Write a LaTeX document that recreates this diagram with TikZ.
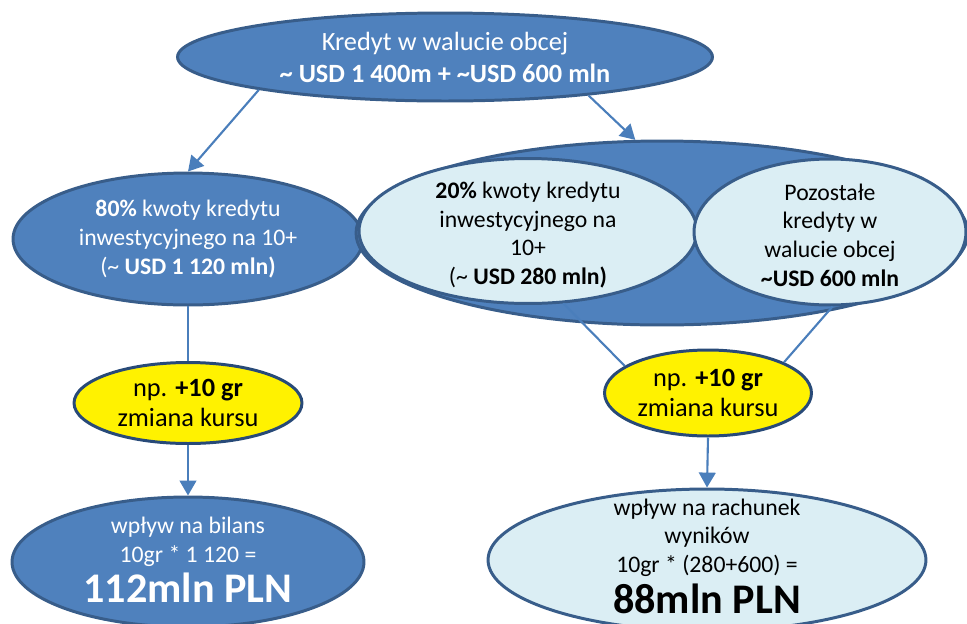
\documentclass[tikz,border=0pt]{standalone}
\usepackage{fontspec}
\setmainfont{Carlito}
\usetikzlibrary{shapes.geometric, arrows.meta, positioning}
\definecolor{darkfill}{HTML}{4F81BD}
\definecolor{edgeblue}{HTML}{385D8A}
\definecolor{lightfill}{HTML}{DBEEF4}
\definecolor{lineblue}{HTML}{4A7EBB}
\definecolor{navyedge}{HTML}{284A78}

\begin{document}
\begin{tikzpicture}[x=0.02cm, y=-0.02cm, >={Triangle[length=8.5pt,width=9.5pt]},
    oval/.style={draw=edgeblue, ellipse, line width=1.7pt, inner sep=0pt, align=center},
    dark/.style={oval, fill=darkfill, text=white},
    light/.style={oval, fill=lightfill},
    rate/.style={oval, fill=yellow, draw=navyedge, font=\fontsize{15}{17}\selectfont},
    txt/.style={align=center, font=\fontsize{13.5}{16.3}\selectfont},
    conn/.style={draw=lineblue, line width=1.2pt}]
    \useasboundingbox (0,0) rectangle (967,623);
    % top
    \node[dark, minimum width=10.7cm, minimum height=1.76cm, font=\fontsize{15}{18.2}\selectfont] (loan) at (445,57)
        {Kredyt w walucie obcej\\\textbf{\textasciitilde{} USD 1 400m + \textasciitilde USD 600 mln}};
    % left branch
    \node[dark, txt, minimum width=7cm, minimum height=2.64cm] (big) at (188,239)
        {\textbf{80\%} kwoty kredytu\\inwestycyjnego na 10+\\(\textasciitilde{} \textbf{USD 1 120 mln)}};
    \node[rate, minimum width=4.56cm, minimum height=1.62cm] (rateL) at (188,403)
        {np. \textbf{+10 gr}\\zmiana kursu};
    \node[dark, minimum width=7.04cm, minimum height=2.6cm] (bilans) at (188,562) {};
    \node[txt, text=white] (bilansT) at (188,560)
        {wpływ na bilans\\10gr * 1 120 =\\[3pt]{\fontsize{24}{26}\selectfont\textbf{112mln PLN}}};
    % right branch
    \node[dark, minimum width=12.24cm, minimum height=3.68cm] (rest) at (662,233) {};
    \node[light, minimum width=6.76cm, minimum height=2.9cm] (small) at (528,231) {};
    \node[txt] (smallT) at (528,235)
        {\textbf{20\%} kwoty kredytu\\inwestycyjnego na\\10+\\(\textasciitilde{} \textbf{USD 280 mln)}};
    \node[light, minimum width=5.44cm, minimum height=2.92cm] (other) at (830,232) {};
    \node[txt] (otherT) at (830,235)
        {Pozostałe\\kredyty w\\walucie obcej\\\textbf{\textasciitilde USD 600 mln}};
    \node[rate, minimum width=4.14cm, minimum height=1.72cm] (rateR) at (708,393)
        {np. \textbf{+10 gr}\\zmiana kursu};
    \node[light, minimum width=8.76cm, minimum height=2.84cm] (wynik) at (707,560) {};
    \node[txt] (wynikT) at (707,556)
        {wpływ na rachunek\\wyników\\10gr * (280+600) =\\[3pt]{\fontsize{24}{26}\selectfont\textbf{88mln PLN}}};
    % connectors
    \draw[conn, ->] (loan.190) -- (big.north);
    \draw[conn, ->] (loan.345) -- (rest.106);
    \draw[conn] (big.south) -- (rateL.north);
    \draw[conn, ->] (rateL.south) -- (bilans.north);
    \draw[conn] (small.296) -- (rateR.162);
    \draw[conn] (other.272) -- (rateR.22);
    \draw[conn, ->] (rateR.south) -- (wynik.north);
\end{tikzpicture}
\end{document}
